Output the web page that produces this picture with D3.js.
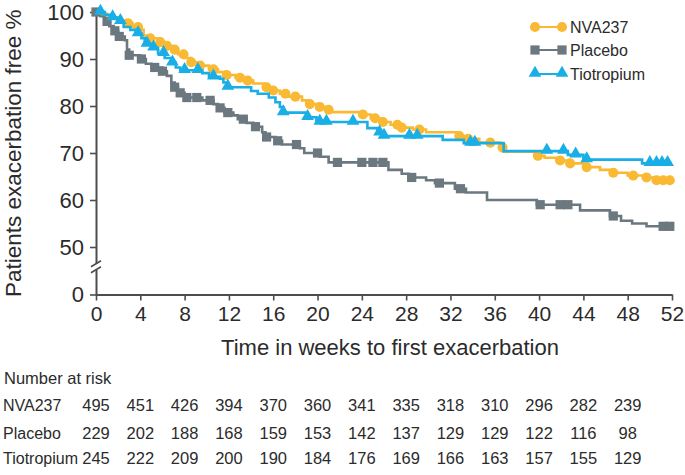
<!DOCTYPE html>
<html>
<head>
<meta charset="utf-8">
<script src="https://cdn.jsdelivr.net/npm/d3@7/dist/d3.min.js"></script>
<style>
  html, body { margin: 0; padding: 0; background: #fff; }
  svg { display: block; font-family: "Liberation Sans", Arial, sans-serif; }
</style>
</head>
<body>
<svg id="chart" width="685" height="475"></svg>
<script>
// ---------- DATA ----------
const seriesNames = ["NVA237", "Placebo", "Tiotropium"];
const xTicks = [0,4,8,12,16,20,24,28,32,36,40,44,48,52];
const yTicks = [0,50,60,70,80,90,100];
const riskWeeks = [0,4,8,12,16,20,24,28,32,36,40,44,48];

// Kaplan-Meier steps: [week, % exacerbation free]
const nvaSteps = [[0,100],[0.5,99.6],[1.0,99.2],[1.6,98.8],[2.2,98.2],[2.7,97.6],[3.3,96.8],[3.9,96.2],[4.3,95.0],[4.8,94.4],[5.6,93.6],[6.2,92.8],[6.8,92.0],[7.4,91.0],[8.0,90.2],[8.6,89.3],[9.4,88.6],[10.2,87.8],[11.0,87.2],[11.8,86.6],[12.6,86.0],[13.5,85.4],[14.2,84.8],[15.2,84.0],[15.8,83.3],[16.6,82.6],[17.4,82.0],[18.6,81.2],[19.2,80.4],[20.0,79.8],[20.8,79.2],[21.3,78.7],[24.0,78.2],[24.8,77.4],[25.6,76.6],[26.6,76.0],[27.4,75.4],[28.6,75.0],[29.8,74.4],[32.7,73.6],[33.3,73.0],[34.6,72.2],[36.5,71.2],[36.8,70.3],[39.6,69.4],[40.5,69.0],[41.6,68.4],[42.6,67.8],[44.0,67.0],[45.5,66.4],[46.5,65.8],[48.0,65.2],[49.4,64.8],[50.4,64.2],[52,64.2]];
const nvaMarks = [2.9,3.8,4.9,5.8,6.4,7.1,7.9,8.6,9.4,10.6,11.8,13.0,13.7,15.4,16.0,17.1,18.0,19.3,20.2,21.0,24.1,25.2,25.9,27.2,27.6,29.2,32.8,33.6,35.6,36.7,39.9,41.9,42.8,44.3,46.7,48.5,49.7,50.6,51.2,51.8];

const plaSteps = [[0,100],[0.4,99.1],[0.8,98.0],[1.2,97.0],[1.6,96.0],[2.0,94.8],[2.6,94.0],[2.8,92.0],[3.0,90.8],[4.0,90.0],[4.5,89.0],[5.0,88.2],[6.0,87.4],[6.4,86.4],[6.8,85.0],[7.1,84.0],[7.4,82.8],[8.0,81.8],[9.6,81.2],[10.6,80.4],[11.0,79.6],[11.6,78.6],[12.4,78.0],[12.8,77.2],[13.6,76.4],[14.2,75.6],[15.0,74.4],[15.3,73.4],[16.2,72.6],[16.8,71.8],[18.4,71.0],[18.8,70.0],[20.2,69.2],[21.0,68.0],[26.4,66.4],[27.6,65.6],[28.2,64.8],[29.8,64.2],[30.6,63.6],[32.4,62.4],[33.4,61.6],[35.3,60.0],[39.8,59.0],[43.7,57.8],[46.4,56.6],[47.4,55.6],[48.4,55.0],[49.7,54.4],[52,54.4]];
const plaMarks = [0,1.0,1.7,2.1,3.0,4.1,5.3,6.0,7.1,7.6,8.2,9.1,10.3,11.2,11.9,13.3,14.4,15.4,16.4,18.1,20.0,21.8,24.0,25.0,25.9,28.5,31.0,32.9,40.1,41.9,42.6,46.7,51.2,51.8];

const tioSteps = [[0,100],[0.8,99.4],[1.4,98.8],[2.2,98.0],[2.5,96.8],[3.1,96.2],[3.6,95.4],[4.1,94.4],[4.4,93.2],[5.0,92.4],[5.6,91.2],[6.2,90.2],[6.8,89.2],[7.2,88.2],[7.6,87.6],[9.6,87.0],[10.2,86.2],[11.2,85.8],[11.5,85.0],[11.8,84.0],[14.0,83.2],[14.6,82.6],[15.6,81.8],[16.2,80.8],[16.6,79.8],[16.9,78.6],[19.1,77.6],[19.9,76.6],[24.5,75.3],[25.4,74.3],[26.0,73.6],[31.3,72.8],[33.2,72.1],[36.8,70.4],[42.6,69.6],[44.0,68.6],[49.3,67.8],[52,67.8]];
const tioMarks = [0.4,1.5,2.2,3.8,4.6,5.2,6.1,6.9,8.0,9.2,10.6,11.9,16.9,19.1,20.2,20.8,23.2,25.6,26.0,28.3,29.0,33.8,34.2,40.7,42.2,43.3,44.3,50.0,50.6,51.1,51.6];

const riskNVA = [495,451,426,394,370,360,341,335,318,310,296,282,239];
const riskPla = [229,202,188,168,159,153,142,137,129,129,122,116,98];
const riskTio = [245,222,209,200,190,184,176,169,166,163,157,155,129];

const colors = { NVA237: "#F9B933", Placebo: "#6B7880", Tiotropium: "#19AEE6" };

// ---------- CHART ----------
const svg = d3.select("#chart");
const x = d3.scaleLinear().domain([0, 52]).range([96, 672]);
const y = d3.scaleLinear().domain([0, 50, 100]).range([294.5, 247, 12]);
const axisColor = "#4d4d4d";
const textColor = "#2b2b2b";

// x axis
const xAxisG = svg.append("g").attr("transform", `translate(0,${y(0)})`)
  .call(d3.axisBottom(x).tickValues(xTicks).tickSize(6).tickPadding(6).tickSizeOuter(0));
xAxisG.select(".domain").attr("stroke", axisColor).attr("stroke-width", 2);
xAxisG.selectAll(".tick line").attr("stroke", axisColor).attr("stroke-width", 1.6);
xAxisG.selectAll(".tick text").attr("font-size", 21).attr("fill", textColor)
  .attr("font-family", "Liberation Sans, Arial, sans-serif");

// y axis
const yAxisG = svg.append("g").attr("transform", `translate(${x(0)},0)`)
  .call(d3.axisLeft(y).tickValues(yTicks).tickSize(6).tickPadding(6).tickSizeOuter(0));
yAxisG.select(".domain").attr("stroke", axisColor).attr("stroke-width", 2);
yAxisG.selectAll(".tick line").attr("stroke", axisColor).attr("stroke-width", 1.6);
yAxisG.selectAll(".tick text").attr("font-size", 22).attr("fill", textColor)
  .attr("font-family", "Liberation Sans, Arial, sans-serif");

// axis break
const bY = (y(0) + y(50)) / 2 - 4;
svg.append("rect").attr("x", x(0) - 3).attr("y", bY - 3).attr("width", 6).attr("height", 6).attr("fill", "#fff");
[-3, 3].forEach(d => {
  svg.append("line").attr("x1", x(0) - 5).attr("x2", x(0) + 5)
    .attr("y1", bY + d + 3).attr("y2", bY + d - 3)
    .attr("stroke", axisColor).attr("stroke-width", 1.6);
});

// axis titles
svg.append("text").attr("x", 390).attr("y", 355)
  .attr("text-anchor", "middle").attr("font-size", 22).attr("fill", textColor)
  .text("Time in weeks to first exacerbation");
svg.append("text").attr("transform", `translate(21,${(y(0) + y(100)) / 2}) rotate(-90)`)
  .attr("text-anchor", "middle").attr("font-size", 22.5).attr("fill", textColor)
  .text("Patients exacerbation free %");

// curves
const line = d3.line().x(d => x(d[0])).y(d => y(d[1])).curve(d3.curveStepAfter);
function valueAt(steps, t) {
  let v = steps[0][1];
  for (const s of steps) { if (s[0] <= t) v = s[1]; }
  return v;
}
const symbols = { NVA237: d3.symbolCircle, Placebo: d3.symbolSquare, Tiotropium: d3.symbolTriangle };
const symSize = { NVA237: 80, Placebo: 85, Tiotropium: 70 };
const series = [
  { name: "Placebo", steps: plaSteps, marks: plaMarks },
  { name: "NVA237", steps: nvaSteps, marks: nvaMarks },
  { name: "Tiotropium", steps: tioSteps, marks: tioMarks }
];
series.forEach(s => {
  const g = svg.append("g");
  g.append("path").datum(s.steps).attr("d", line).attr("fill", "none")
    .attr("stroke", colors[s.name]).attr("stroke-width", 2.6);
  g.selectAll("path.m").data(s.marks).join("path").attr("class", "m")
    .attr("d", d3.symbol().type(symbols[s.name]).size(symSize[s.name]))
    .attr("transform", d => `translate(${x(d)},${y(valueAt(s.steps, d)) + (s.name === "Tiotropium" ? -1 : 0)})`)
    .attr("fill", colors[s.name]);
});

// legend
const legY = [27, 50, 74];
seriesNames.forEach((n, i) => {
  const g = svg.append("g").attr("transform", `translate(0,${legY[i]})`);
  g.append("line").attr("x1", 535).attr("x2", 562).attr("stroke", colors[n]).attr("stroke-width", 2);
  [535, 562].forEach(px => g.append("path")
    .attr("d", d3.symbol().type(symbols[n]).size(symSize[n]))
    .attr("transform", `translate(${px},${n === "Tiotropium" ? -1 : 0})`).attr("fill", colors[n]));
  g.append("text").attr("x", 570).attr("y", 6).attr("font-size", 16).attr("fill", textColor).text(n);
});

// number at risk table
svg.append("text").attr("x", 4).attr("y", 384).attr("font-size", 16.5).attr("fill", textColor).text("Number at risk");
const rows = [["NVA237", riskNVA, 411], ["Placebo", riskPla, 439], ["Tiotropium", riskTio, 464]];
rows.forEach(([name, vals, by]) => {
  svg.append("text").attr("x", 3).attr("y", by).attr("font-size", 16).attr("fill", textColor).text(name);
  svg.append("g").selectAll("text").data(vals).join("text")
    .attr("x", (d, i) => x(riskWeeks[i])).attr("y", by)
    .attr("text-anchor", "middle").attr("font-size", 16.5).attr("fill", textColor)
    .text(d => d);
});
</script>
</body>
</html>
